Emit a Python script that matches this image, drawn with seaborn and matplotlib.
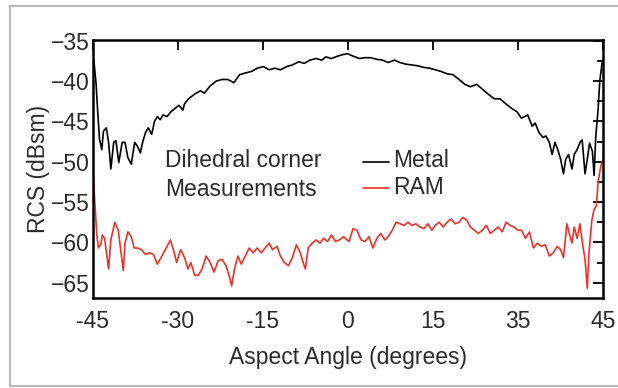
import matplotlib
matplotlib.use("Agg")
import matplotlib.pyplot as plt
from matplotlib.lines import Line2D
from matplotlib.ticker import MultipleLocator
import pandas as pd
import seaborn as sns

# values (angle in degrees, RCS in dBsm)
metal_angle = [-45.0, -44.8, -44.4, -44.1, -43.8, -43.4, -43.1, -42.6, -42.2, -41.8, -41.3, -40.9,
               -40.4, -39.8, -39.3, -38.8, -38.2, -37.6, -37.1, -36.6, -36.2, -35.7, -35.2, -34.6,
               -34.1, -33.6, -33.1, -32.6, -31.9, -31.2, -30.5, -29.8, -29.1, -28.8, -28.1, -27.0,
               -26.0, -25.3, -24.3, -23.2, -22.2, -21.2, -20.1, -19.1, -18.1, -17.0, -16.0, -14.9,
               -13.9, -12.9, -11.9, -10.8, -9.8, -8.7, -7.7, -6.7, -5.6, -4.6, -3.9, -2.9,
               -1.8, -0.8, -0.1, 0.9, 2.0, 3.0, 4.0, 5.1, 6.1, 7.1, 8.2, 9.2,
               10.2, 11.3, 12.3, 13.4, 14.4, 15.4, 16.4, 17.5, 18.5, 19.6, 20.6, 21.6,
               22.7, 23.7, 24.7, 25.8, 26.8, 27.8, 28.9, 29.8, 30.6, 31.7, 32.5, 33.0,
               33.7, 34.4, 34.9, 35.5, 36.0, 36.5, 37.0, 37.5, 38.0, 38.4, 38.9, 39.5,
               39.9, 40.4, 41.0, 41.3, 41.8, 42.2, 42.6, 43.1, 43.4, 43.7, 44.1, 44.4,
               44.8, 45.0]
metal_rcs = [-37.0, -37.4, -40.4, -44.0, -47.2, -48.5, -46.2, -45.8, -47.6, -50.9, -47.6, -47.4,
             -50.1, -47.6, -47.6, -49.5, -50.3, -47.6, -48.1, -48.9, -47.6, -46.4, -45.8, -46.6,
             -45.0, -44.4, -44.8, -44.2, -44.4, -43.8, -43.4, -43.0, -43.6, -42.8, -42.2, -41.6,
             -41.2, -41.5, -40.6, -40.0, -39.8, -39.8, -40.2, -39.2, -39.0, -38.8, -38.4, -38.2,
             -38.6, -38.4, -38.6, -38.2, -38.0, -37.6, -37.8, -37.4, -37.2, -37.4, -37.0, -37.2,
             -36.9, -36.7, -36.6, -36.9, -37.2, -37.1, -37.1, -37.3, -37.4, -37.7, -37.4, -37.7,
             -37.9, -38.0, -38.1, -38.3, -38.4, -38.6, -38.8, -39.1, -39.2, -39.8, -40.4, -40.7,
             -40.4, -41.0, -41.6, -42.2, -42.2, -42.8, -43.4, -43.8, -44.6, -44.2, -45.6, -45.2,
             -46.4, -47.0, -46.8, -47.6, -49.1, -47.6, -48.5, -49.7, -51.5, -49.7, -49.1, -50.9,
             -49.1, -48.5, -47.5, -47.3, -51.5, -49.7, -47.7, -48.7, -51.7, -46.8, -43.6, -40.0,
             -37.8, -37.4]

ram_angle = [-45.0, -44.7, -44.3, -44.0, -43.6, -43.3, -42.9, -42.2, -41.8, -41.1, -40.5, -40.0,
             -39.6, -39.3, -38.8, -38.2, -37.7, -37.1, -36.4, -35.7, -35.0, -34.3, -33.6, -32.8,
             -31.9, -31.3, -30.7, -30.2, -29.5, -28.8, -28.2, -27.7, -27.0, -26.4, -25.7, -25.0,
             -24.3, -23.6, -22.9, -22.2, -21.5, -20.8, -20.5, -20.0, -19.4, -18.8, -18.1, -17.4,
             -16.7, -16.0, -15.3, -14.6, -13.9, -13.3, -12.5, -11.9, -11.2, -10.5, -9.8, -9.1,
             -8.4, -7.9, -7.5, -7.0, -6.3, -5.6, -4.9, -4.3, -3.6, -2.9, -2.2, -1.5,
             -0.8, 0.2, 0.9, 1.6, 2.3, 3.0, 3.7, 4.4, 5.1, 5.8, 6.5, 7.1,
             7.8, 8.5, 9.2, 9.9, 10.6, 11.3, 12.0, 12.7, 13.4, 14.1, 14.8, 15.4,
             16.1, 16.8, 17.5, 18.2, 18.9, 19.6, 20.3, 21.0, 21.6, 22.3, 23.0, 23.7,
             24.4, 25.1, 25.8, 26.5, 27.2, 27.9, 28.6, 29.3, 30.0, 30.6, 31.3, 32.0,
             32.7, 33.4, 34.1, 34.8, 35.5, 36.2, 36.9, 37.5, 38.0, 38.6, 39.1, 39.5,
             39.9, 40.4, 40.9, 41.3, 41.8, 42.2, 42.5, 43.0, 43.4, 43.8, 44.1, 44.6,
             45.0]
ram_rcs = [-50.1, -54.1, -58.9, -60.7, -60.3, -59.1, -59.5, -63.3, -59.7, -57.5, -58.5, -61.3,
           -63.5, -60.1, -58.7, -59.3, -60.7, -60.7, -60.9, -61.5, -61.3, -61.5, -62.7, -61.7,
           -60.5, -59.7, -61.1, -62.5, -60.9, -61.9, -63.3, -62.5, -64.1, -64.1, -63.3, -61.7,
           -62.5, -63.7, -62.3, -62.1, -62.9, -64.5, -65.4, -63.3, -61.7, -62.7, -61.7, -60.7,
           -61.3, -60.7, -61.3, -60.7, -60.1, -60.9, -60.5, -61.7, -62.5, -62.9, -61.9, -60.3,
           -61.3, -62.5, -63.3, -60.7, -60.1, -59.7, -60.1, -59.5, -59.9, -59.1, -59.9, -59.7,
           -59.3, -59.9, -58.3, -58.5, -59.7, -59.9, -59.3, -60.7, -59.5, -58.9, -59.7, -59.3,
           -58.5, -57.5, -57.7, -57.9, -57.5, -57.9, -57.7, -58.1, -58.3, -57.7, -58.5, -57.9,
           -57.5, -58.1, -57.5, -57.1, -57.7, -57.5, -56.9, -57.3, -58.1, -58.5, -58.9, -58.5,
           -57.9, -58.9, -58.5, -58.1, -58.7, -57.5, -57.9, -58.1, -58.5, -58.5, -59.5, -58.7,
           -60.7, -60.1, -60.5, -60.3, -61.7, -61.3, -60.5, -60.9, -61.9, -57.7, -59.1, -60.1,
           -58.1, -59.5, -57.7, -59.9, -62.1, -65.7, -61.3, -57.3, -55.9, -55.5, -52.5, -50.5,
           -49.7]

x_ticks = [-45, -30, -15, 0, 15, 30, 45]
x_tick_labels = ["-45", "-30", "-15", "0", "15", "35", "45"]
y_ticks = [-35, -40, -45, -50, -55, -60, -65]

df = pd.concat([
    pd.DataFrame({"angle": metal_angle, "rcs": metal_rcs, "material": "Metal"}),
    pd.DataFrame({"angle": ram_angle, "rcs": ram_rcs, "material": "RAM"}),
], ignore_index=True)

sns.set_theme(style="white")
plt.rcParams['font.family'] = ['Liberation Sans', 'DejaVu Sans']
text_color = "#2b2b2b"
fs = 16.5

fig = plt.figure(figsize=(6.18, 3.88), dpi=100)
ax = fig.add_axes([0.150, 0.232, 0.826, 0.665])

palette = {"Metal": "#000000", "RAM": "#e8322a"}
sns.lineplot(data=df, x="angle", y="rcs", hue="material", palette=palette,
             estimator=None, sort=False, legend=False, linewidth=1.2, ax=ax)

ax.set_xlim(-45, 45)
ax.set_ylim(-66.9, -34.9)
ax.set_xticks(x_ticks)
ax.set_xticklabels(x_tick_labels)
ax.set_yticks(y_ticks)
ax.yaxis.set_minor_locator(MultipleLocator(2.5))
ax.tick_params(which="both", direction="in", top=True, right=True, colors="black",
               labelcolor=text_color, labelsize=fs, width=1.3)
ax.tick_params(axis="x", pad=9)
ax.tick_params(axis="y", pad=2)
ax.tick_params(which="major", length=7)
ax.tick_params(which="minor", length=4)
for s in ax.spines.values():
    s.set_linewidth(1.8)
    s.set_color("black")

ax.set_xlabel("Aspect Angle (degrees)", fontsize=fs, color=text_color, labelpad=9)
ax.set_ylabel("RCS (dBsm)", fontsize=fs, color=text_color, labelpad=1)

# annotation and hand-drawn legend
ax.text(-32.2, -49.8, "Dihedral corner", fontsize=fs, color=text_color, va="center")
ax.text(-32.2, -53.5, "Measurements", fontsize=fs, color=text_color, va="center")
ax.plot([2.6, 7.2], [-50.0, -50.0], color="black", linewidth=1.2)
ax.plot([2.6, 7.2], [-53.3, -53.3], color=palette["RAM"], linewidth=1.2)
ax.text(7.9, -49.8, "Metal", fontsize=fs, color=text_color, va="center")
ax.text(7.9, -53.2, "RAM", fontsize=fs, color=text_color, va="center")

# thin gray frame around the picture (left, top, bottom edges)
frame = "#b8b8b8"
fig.add_artist(Line2D([10 / 618, 10 / 618], [2 / 388, 382 / 388], transform=fig.transFigure, color=frame, lw=1.5))
fig.add_artist(Line2D([10 / 618, 1.0], [382 / 388, 382 / 388], transform=fig.transFigure, color=frame, lw=1.5))
fig.add_artist(Line2D([10 / 618, 1.0], [2 / 388, 2 / 388], transform=fig.transFigure, color=frame, lw=1.5))

fig.savefig("out.png", dpi=100)
